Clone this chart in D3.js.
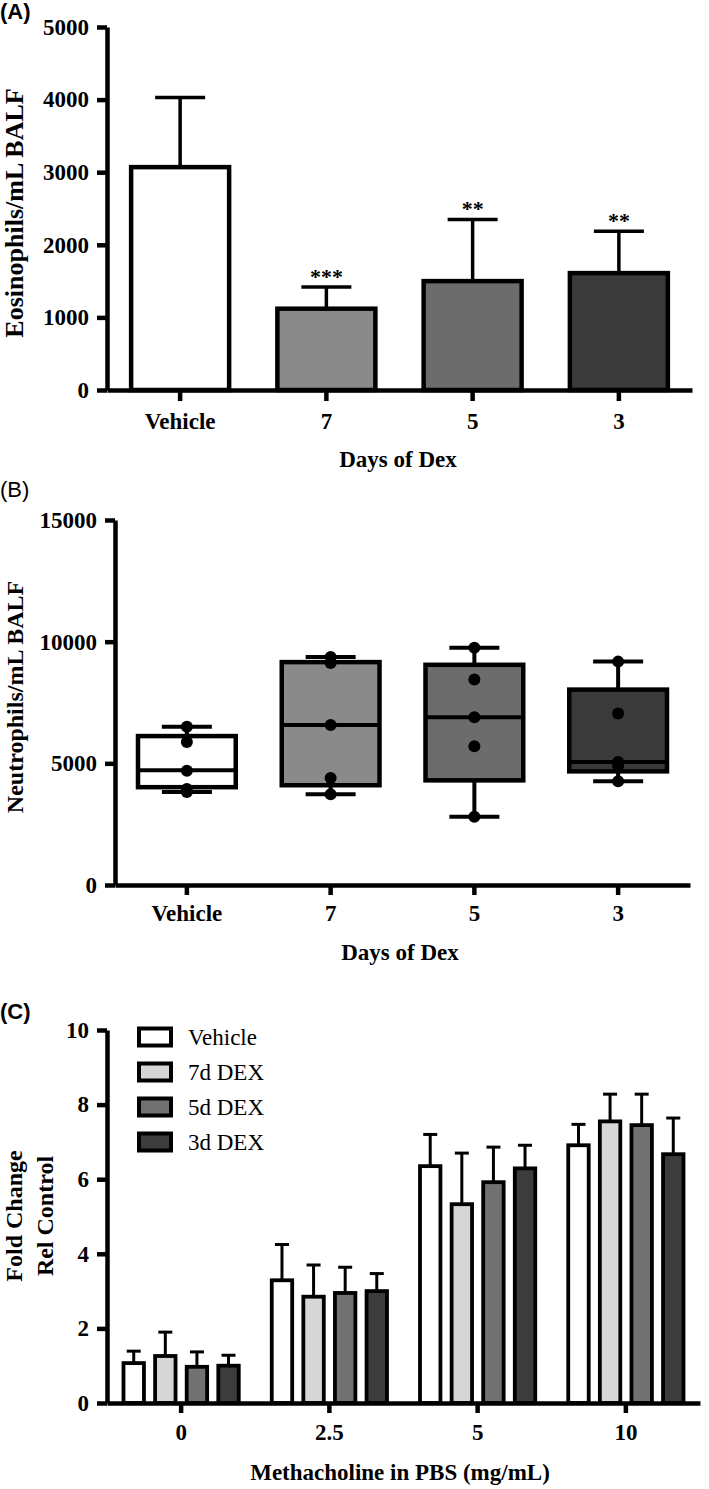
<!DOCTYPE html>
<html>
<head>
<meta charset="utf-8">
<script src="https://cdn.jsdelivr.net/npm/d3@7"></script>
<style>
  body { margin: 0; background: #fff; }
  .ttl { font-family: "Liberation Serif", "Times New Roman", serif; font-weight: bold; fill: #000; }
  .plab { font-family: "Liberation Sans", Arial, sans-serif; font-size: 22px; fill: #000; }
</style>
</head>
<body>
<div id="chart"></div>
<script>
// ---- data ----
// (A) eosinophils, mean and mean+SD
var daysCats = ["Vehicle", "7", "5", "3"];
var eosMean = [3070, 1120, 1500, 1610];
var eosUpper = [4030, 1420, 2350, 2185];
var eosStars = ["", "***", "**", "**"];
var eosTicks = [0, 1000, 2000, 3000, 4000, 5000];
var fillsAB = ["#ffffff", "#8a8a8a", "#6c6c6c", "#3a3a3a"];

// (B) neutrophils, points per animal and box stats
var neuPoints = [
  [6500, 5880, 4700, 3950, 3820],
  [9370, 9120, 6580, 4400, 3730],
  [9750, 8450, 6890, 5700, 2800],
  [9180, 7050, 5050, 4900, 4260]
];
var neuMin = [3820, 3730, 2800, 4260];
var neuQ1 = [4020, 4100, 4300, 4670];
var neuMed = [4720, 6580, 6890, 5050];
var neuQ3 = [6120, 9160, 9050, 8030];
var neuMax = [6500, 9370, 9750, 9180];
var neuTicks = [0, 5000, 10000, 15000];

// (C) airway response, mean and mean+SD
var doses = ["0", "2.5", "5", "10"];
var groups = ["Vehicle", "7d DEX", "5d DEX", "3d DEX"];
var foldMean = [
  [1.07, 3.29, 6.35, 6.91],
  [1.26, 2.85, 5.33, 7.55],
  [0.97, 2.95, 5.92, 7.45],
  [1.00, 3.00, 6.29, 6.67]
];
var foldUpper = [
  [1.39, 4.25, 7.20, 7.47],
  [1.90, 3.70, 6.70, 8.28],
  [1.37, 3.64, 6.86, 8.28],
  [1.28, 3.47, 6.91, 7.64]
];
var foldTicks = [0, 2, 4, 6, 8, 10];
var fillsC = ["#ffffff", "#d6d6d6", "#717171", "#3c3c3c"];

var serif = "'Liberation Serif', 'Times New Roman', serif";

var svg = d3.select("#chart").append("svg")
  .attr("width", 709).attr("height", 1489);

// style the axis the way the figure does: thick black lines, bold serif labels
function styleAxis(g) {
  g.selectAll("path, line").attr("stroke", "#000").attr("stroke-width", 4.5);
  g.selectAll("text")
    .attr("fill", "#000")
    .style("font-family", serif)
    .style("font-weight", "bold")
    .style("font-size", "23px");
}

// panel labels
svg.append("text").attr("class", "plab").attr("x", 0).attr("y", 19).style("font-weight", "bold").text("(A)");
svg.append("text").attr("class", "plab").attr("x", 0).attr("y", 497).text("(B)");
svg.append("text").attr("class", "plab").attr("x", 0).attr("y", 1019).style("font-weight", "bold").text("(C)");

// ========== (A) ==========
var yA = d3.scaleLinear().domain([0, 5000]).range([390, 27]);
var xA = d3.scaleBand().domain(daysCats).range([107, 692]).paddingInner(0.33).paddingOuter(0.165);

var barsA = svg.append("g");
daysCats.forEach(function(c, i) {
  var cx = xA(c) + xA.bandwidth() / 2;
  barsA.append("line")
    .attr("x1", cx).attr("x2", cx)
    .attr("y1", yA(eosMean[i])).attr("y2", yA(eosUpper[i]))
    .attr("stroke", "#000").attr("stroke-width", 3.5);
  barsA.append("line")
    .attr("x1", cx - 25).attr("x2", cx + 25)
    .attr("y1", yA(eosUpper[i])).attr("y2", yA(eosUpper[i]))
    .attr("stroke", "#000").attr("stroke-width", 3.5);
  barsA.append("rect")
    .attr("x", xA(c)).attr("width", xA.bandwidth())
    .attr("y", yA(eosMean[i])).attr("height", yA(0) - yA(eosMean[i]))
    .attr("fill", fillsAB[i]).attr("stroke", "#000").attr("stroke-width", 4.5);
  if (eosStars[i]) {
    barsA.append("text").attr("class", "ttl")
      .attr("x", cx).attr("y", yA(eosUpper[i]) - 3)
      .attr("text-anchor", "middle").style("font-size", "22px")
      .text(eosStars[i]);
  }
});

svg.append("g").attr("transform", "translate(107,0)")
  .call(d3.axisLeft(yA).tickValues(eosTicks).tickFormat(d3.format("d")).tickSize(10).tickSizeOuter(0).tickPadding(8))
  .call(styleAxis);
svg.append("g").attr("transform", "translate(0,390)")
  .call(d3.axisBottom(xA).tickSize(11).tickSizeOuter(0).tickPadding(12))
  .call(styleAxis);

svg.append("text").attr("class", "ttl").style("font-size", "26px")
  .attr("text-anchor", "middle")
  .attr("transform", "translate(23,213) rotate(-90)")
  .text("Eosinophils/mL BALF");
svg.append("text").attr("class", "ttl").style("font-size", "23px")
  .attr("text-anchor", "middle").attr("x", 398).attr("y", 467)
  .text("Days of Dex");

// ========== (B) ==========
var yB = d3.scaleLinear().domain([0, 15000]).range([885, 520]);
var xB = d3.scaleBand().domain(daysCats).range([115, 690]).paddingInner(0.32).paddingOuter(0.16);

var boxB = svg.append("g");
daysCats.forEach(function(c, i) {
  var x0 = xB(c), w = xB.bandwidth(), cx = x0 + w / 2;
  // whiskers
  [[neuQ3[i], neuMax[i]], [neuQ1[i], neuMin[i]]].forEach(function(p) {
    boxB.append("line").attr("x1", cx).attr("x2", cx)
      .attr("y1", yB(p[0])).attr("y2", yB(p[1]))
      .attr("stroke", "#000").attr("stroke-width", 4);
    boxB.append("line").attr("x1", cx - 25).attr("x2", cx + 25)
      .attr("y1", yB(p[1])).attr("y2", yB(p[1]))
      .attr("stroke", "#000").attr("stroke-width", 4);
  });
  boxB.append("rect")
    .attr("x", x0).attr("width", w)
    .attr("y", yB(neuQ3[i])).attr("height", yB(neuQ1[i]) - yB(neuQ3[i]))
    .attr("fill", fillsAB[i]).attr("stroke", "#000").attr("stroke-width", 4.5);
  boxB.append("line").attr("x1", x0).attr("x2", x0 + w)
    .attr("y1", yB(neuMed[i])).attr("y2", yB(neuMed[i]))
    .attr("stroke", "#000").attr("stroke-width", 4);
  boxB.selectAll(null).data(neuPoints[i]).enter().append("circle")
    .attr("cx", cx).attr("cy", function(d) { return yB(d); })
    .attr("r", 6).attr("fill", "#000");
});

svg.append("g").attr("transform", "translate(115,0)")
  .call(d3.axisLeft(yB).tickValues(neuTicks).tickFormat(d3.format("d")).tickSize(10).tickSizeOuter(0).tickPadding(8))
  .call(styleAxis);
svg.append("g").attr("transform", "translate(0,885)")
  .call(d3.axisBottom(xB).tickSize(10).tickSizeOuter(0).tickPadding(10))
  .call(styleAxis);

svg.append("text").attr("class", "ttl").style("font-size", "24px")
  .attr("text-anchor", "middle")
  .attr("transform", "translate(23,697) rotate(-90)")
  .text("Neutrophils/mL BALF");
svg.append("text").attr("class", "ttl").style("font-size", "23px")
  .attr("text-anchor", "middle").attr("x", 400).attr("y", 960)
  .text("Days of Dex");

// ========== (C) ==========
var yC = d3.scaleLinear().domain([0, 10]).range([1403, 1030]);
var xC = d3.scaleBand().domain(doses).range([107, 700]).paddingInner(0.2).paddingOuter(0.1);
var xCi = d3.scaleBand().domain(groups).range([0, xC.bandwidth()]).paddingInner(0.353).paddingOuter(0.053);

var barsC = svg.append("g");
groups.forEach(function(g, s) {
  doses.forEach(function(d, j) {
    var x0 = xC(d) + xCi(g), w = xCi.bandwidth(), cx = x0 + w / 2;
    barsC.append("line").attr("x1", cx).attr("x2", cx)
      .attr("y1", yC(foldMean[s][j])).attr("y2", yC(foldUpper[s][j]))
      .attr("stroke", "#000").attr("stroke-width", 3);
    barsC.append("line").attr("x1", cx - 7).attr("x2", cx + 7)
      .attr("y1", yC(foldUpper[s][j])).attr("y2", yC(foldUpper[s][j]))
      .attr("stroke", "#000").attr("stroke-width", 3);
    barsC.append("rect")
      .attr("x", x0).attr("width", w)
      .attr("y", yC(foldMean[s][j])).attr("height", yC(0) - yC(foldMean[s][j]))
      .attr("fill", fillsC[s]).attr("stroke", "#000").attr("stroke-width", 3.8);
  });
});

svg.append("g").attr("transform", "translate(107,0)")
  .call(d3.axisLeft(yC).tickValues(foldTicks).tickFormat(d3.format("d")).tickSize(10).tickSizeOuter(0).tickPadding(8))
  .call(styleAxis);
svg.append("g").attr("transform", "translate(0,1403)")
  .call(d3.axisBottom(xC).tickSize(10).tickSizeOuter(0).tickPadding(11))
  .call(styleAxis);

// legend
var leg = svg.append("g");
groups.forEach(function(g, s) {
  var cy = 1037 + s * 35;
  leg.append("rect").attr("x", 139).attr("y", cy - 8.5).attr("width", 32).attr("height", 17)
    .attr("fill", fillsC[s]).attr("stroke", "#000").attr("stroke-width", 4);
  leg.append("text").attr("x", 188).attr("y", cy + 8)
    .style("font-family", serif)
    .style("font-size", "23px").text(g);
});

var yTitleC = svg.append("text").attr("class", "ttl").style("font-size", "24px")
  .attr("text-anchor", "middle")
  .attr("transform", "translate(22,1216) rotate(-90)");
yTitleC.append("tspan").attr("x", 0).attr("y", 0).text("Fold Change");
yTitleC.append("tspan").attr("x", 0).attr("y", 31).text("Rel Control");

svg.append("text").attr("class", "ttl").style("font-size", "23px")
  .attr("text-anchor", "middle").attr("x", 400).attr("y", 1480)
  .text("Methacholine in PBS (mg/mL)");
</script>
</body>
</html>
